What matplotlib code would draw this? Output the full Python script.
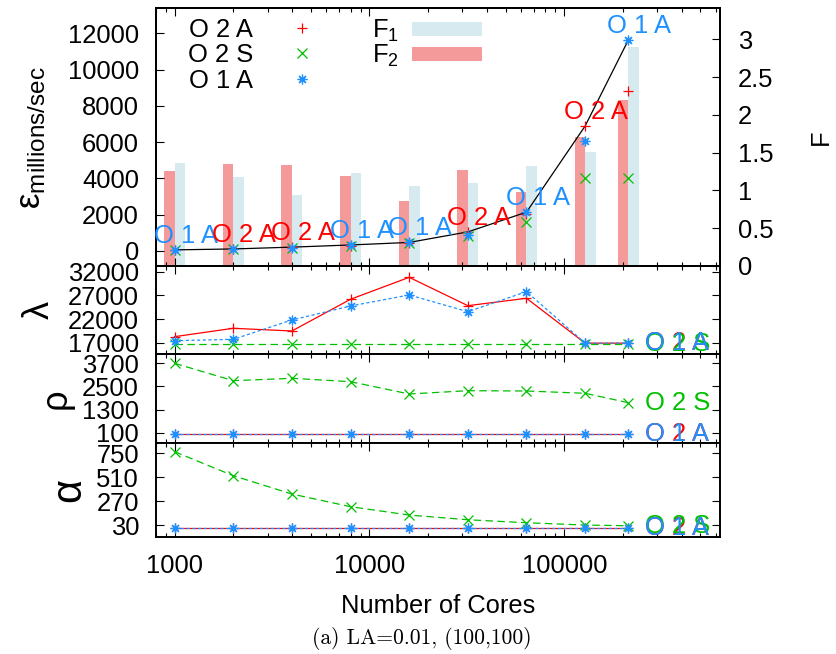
import numpy as np
import matplotlib
matplotlib.use('Agg')
import matplotlib.pyplot as plt
from matplotlib.patches import Patch
from matplotlib.ticker import NullFormatter

plt.rcParams['font.family'] = ['Liberation Sans', 'DejaVu Sans']
plt.rcParams['mathtext.fontset'] = 'custom'
plt.rcParams['mathtext.rm'] = 'Liberation Sans'
plt.rcParams['mathtext.it'] = 'Liberation Sans:italic'

cores = [1000, 2000, 4000, 8000, 16000, 32000, 64000, 128000, 213000]

# throughput, millions/sec
eps_o2a = [50, 110, 210, 300, 420, 1050, 2050, 6890, 8840]
eps_o2s = [45, 90, 160, 290, 440, 830, 1570, 4030, 4030]
eps_o1a = [60, 92, 170, 330, 470, 900, 2140, 6060, 11620]

# F ratios (bars, right axis)
f1 = [1.36, 1.175, 0.936, 1.228, 1.056, 1.095, 1.321, 1.502, 2.893]
f2 = [1.254, 1.347, 1.334, 1.188, 0.857, 1.268, 0.976, 1.709, 2.195]

lam_o2a = [18270, 20040, 19470, 26170, 30810, 24820, 26380, 16900, 16900]
lam_o2s = [16800, 16800, 16800, 16800, 16800, 16800, 16800, 16800, 16800]
lam_o1a = [17420, 17710, 21800, 24750, 27080, 23550, 27780, 16900, 16900]

rho_o2a = [30, 30, 30, 30, 30, 30, 30, 30, 30]
rho_o2s = [3700, 2798, 2922, 2746, 2108, 2279, 2263, 2144, 1656]
rho_o1a = [30, 30, 30, 30, 30, 30, 30, 30, 30]

alpha_o2a = [5, 5, 5, 5, 5, 5, 5, 5, 5]
alpha_o2s = [766, 525, 341, 214, 130, 83, 53, 30, 23]
alpha_o1a = [5, 5, 5, 5, 5, 5, 5, 5, 5]

names = ['O 2 A', 'O 2 S', 'O 1 A']
RED, GREEN, BLUE = '#ff0000', '#00c000', '#1e90ff'
colors = [RED, GREEN, BLUE]
markers = ['+', 'x', (8, 2, 0)]
lstyles = ['-', (0, (6, 3.5)), (0, (2.5, 2))]
FS = 18.4

fig = plt.figure(figsize=(8.37, 6.54), dpi=100)
L = 155.7 / 837
W = (720 - 155.7) / 837


def box(top, bot):
    return [L, 1 - bot / 654, W, (bot - top) / 654]


ax = fig.add_axes(box(8.3, 266))
axl = fig.add_axes(box(266, 354), sharex=ax)
axr = fig.add_axes(box(354, 443), sharex=ax)
axa = fig.add_axes(box(443, 537), sharex=ax)
ax2 = ax.twinx()
ax.set_zorder(ax2.get_zorder() + 1)
ax.patch.set_visible(False)

# bars either side of each core count
r = 1.132
x = np.array(cores, dtype=float)
ax2.bar(x / r, f2, width=x - x / r, align='edge', color='#f59a9a', lw=0)
ax2.bar(x, f1, width=x * r - x, align='edge', color='#d6eaf0', lw=0)
ax2.set_ylim(0, 3.41)
ax2.set_yticks([0, 0.5, 1, 1.5, 2, 2.5, 3], ['0', '0.5', '1', '1.5', '2', '2.5', '3'])

eps = np.array([eps_o2a, eps_o2s, eps_o1a])
best = eps.argmax(axis=0)
ax.plot(cores, eps.max(axis=0), color='k', lw=0.9, zorder=2)
handles = []
for i in range(3):
    h, = ax.plot(cores, eps[i], ls='none', marker=markers[i], color=colors[i],
                 ms=7, mew=0.9, zorder=3)
    handles.append(h)
for j, c in enumerate(cores):
    k = best[j]
    ax.annotate(names[k], (c, eps[k, j]), xytext=(8, 5), textcoords='offset points',
                ha='center', va='baseline', color=colors[k], fontsize=FS, zorder=4)
ax.set_ylim(-830, 13380)
ax.set_yticks(range(0, 12001, 2000))

leg1 = ax.legend(handles, names, loc='upper left', bbox_to_anchor=(0.057, 0.962),
                 frameon=False, fontsize=FS, markerfirst=False, handlelength=3.0,
                 handletextpad=0.4, labelspacing=0.05, borderpad=0, borderaxespad=0)
ax.add_artist(leg1)
ax.legend([Patch(color='#d6eaf0', lw=0), Patch(color='#f59a9a', lw=0)],
          ['F$_1$', 'F$_2$'], loc='upper left', bbox_to_anchor=(0.3835, 0.962),
          frameon=False, fontsize=FS, markerfirst=False, handlelength=2.75,
          handleheight=0.48, handletextpad=0.5, labelspacing=-0.05,
          borderpad=0, borderaxespad=0)

# per-parameter panels
panels = [
    (axl, [lam_o2a, lam_o2s, lam_o1a], (14610, 33200), [17000, 22000, 27000, 32000], 'λ', 26, -0.175),
    (axr, [rho_o2a, rho_o2s, rho_o1a], (-434, 4182), [100, 1300, 2500, 3700], 'ρ', 26, -0.145),
    (axa, [alpha_o2a, alpha_o2s, alpha_o1a], (-90, 853), [30, 270, 510, 750], 'α', 30, -0.118),
]
for pa, vals, lim, ticks, lab, lfs, lx in panels:
    for i in range(3):
        pa.plot(cores, vals[i], ls=lstyles[i], marker=markers[i], color=colors[i],
                lw=0.9, ms=7, mew=0.9)
    for i in range(3):
        pa.annotate(names[i], (cores[-1], vals[i][-1]), xytext=(12, 0),
                    textcoords='offset points', ha='left', va='center',
                    color=colors[i], fontsize=FS)
    pa.set_ylim(*lim)
    pa.set_yticks(ticks)
    pa.set_ylabel(lab, fontsize=lfs)
    pa.yaxis.set_label_coords(lx, 0.5)
    pa.tick_params(axis='both', which='both', direction='in', top=True, right=True,
                   labelbottom=False, labelsize=FS, pad=12)

ax.set_xscale('log')
ax.set_xlim(800, 630000)
axa.set_xticks([1000, 10000, 100000], ['1000', '10000', '100000'])
axa.xaxis.set_minor_formatter(NullFormatter())
axa.tick_params(axis='x', labelbottom=True, pad=12)
axa.set_xlabel('Number of Cores', fontsize=FS, labelpad=12)

ax.tick_params(axis='x', which='both', direction='in', top=True, labelbottom=False)
ax.tick_params(axis='y', direction='in', labelsize=FS, pad=12)
ax2.tick_params(axis='y', direction='in', labelsize=FS, pad=13)
for a in [ax, ax2, axl, axr, axa]:
    a.tick_params(which='major', length=5.5, width=0.8)
    a.tick_params(which='minor', length=3, width=0.8)
    for s in a.spines.values():
        s.set_linewidth(1.4)

ax.set_ylabel('ε$_{\\mathrm{millions/sec}}$', fontsize=25)
ax.yaxis.set_label_coords(-0.19, 0.5)
ax2.set_ylabel('F', fontsize=FS)
ax2.yaxis.set_label_coords(1.158, 0.5)

fig.text(0.504, 1 - 638 / 654, '(a) LA=0.01, (100,100)', family='cmr10',
         fontsize=15.5, ha='center', va='center')

fig.savefig('out.png', dpi=100)
